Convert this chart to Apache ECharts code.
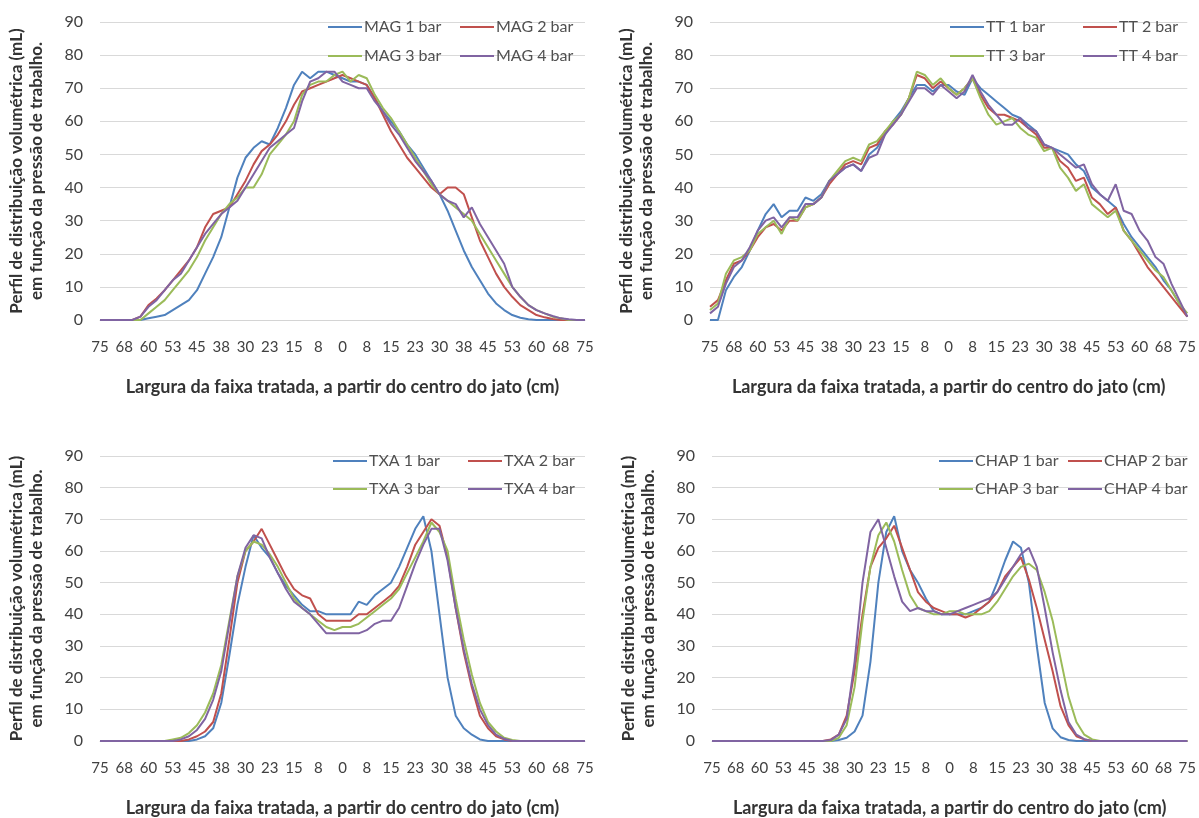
<!DOCTYPE html>
<html>
<head>
<meta charset="utf-8">
<script src="https://cdn.jsdelivr.net/npm/echarts@6/dist/echarts.min.js"></script>
<style>
html,body{margin:0;padding:0;background:#fff;}
#chart{width:1199px;height:818px;}
</style>
</head>
<body>
<div id="chart"></div>
<script>
// x positions (cm from jet centre), left to right
const xPositions = [-75,-72.5,-70,-67.5,-65,-62.5,-60,-57.5,-55,-52.5,-50,-47.5,-45,-42.5,-40,-37.5,-35,-32.5,-30,-27.5,-25,-22.5,-20,-17.5,-15,-12.5,-10,-7.5,-5,-2.5,0,2.5,5,7.5,10,12.5,15,17.5,20,22.5,25,27.5,30,32.5,35,37.5,40,42.5,45,47.5,50,52.5,55,57.5,60,62.5,65,67.5,70,72.5,75];
const tickLabels = ['75','68','60','53','45','38','30','23','15','8','0','8','15','23','30','38','45','53','60','68','75'];
const yTitle = 'Perfil de distribuição volumétrica (mL)\nem função da pressão de trabalho.';
const xTitle = 'Largura da faixa tratada, a partir do centro do jato (cm)';

const mag1 = [0,0,0,0,0,0,0.5,1,1.5,3,4.5,6,9,14,19,25,34,43,49,52,54,53,58,64,71,75,73,75,75,74,73,72,72,71,67,63,60,57,53,50,46,42,38,33,27,21,16,12,8,5,3,1.5,0.7,0.2,0,0,0,0,0,0,0];
const mag2 = [0,0,0,0,0,1,4.5,6.5,9,12,15,18,22,28,32,33,34,38,42,47,51,53,56,60,65,69,70,71,72,73,74,73,72,71,67,62,57,53,49,46,43,40,38,40,40,38,31,24,19,14,10,7,4.5,3,1.5,0.8,0.3,0,0,0,0];
const mag3 = [0,0,0,0,0,0,2,4,6,9,12,15,19,24,28,32,35,37,40,40,44,50,53,56,60,68,71,72,72,74,75,72,74,73,68,64,61,57,53,49,45,41,38,36,34,32,30,26,22,18,14,10,7,4.5,3,2,1,0.5,0,0,0];
const mag4 = [0,0,0,0,0,1,4,6,9,12,14,18,22,26,29,32,34,36,40,44,48,52,54,56,58,66,72,73,75,75,72,71,70,70,66,63,59,56,52,48,45,42,38,36,35,31,34,29,25,21,17,10,7,4.5,3,2,1.2,0.5,0.2,0,0];

const tt1 = [0,0,9,13,16,21,27,32,35,31,33,33,37,36,38,42,44,46,47,45,50,52,56,60,63,67,71,71,69,71,71,69,68,73,70,68,66,64,62,61,59,57,53,52,51,50,47,45,40,38,36,34,29,25,22,19,16,12,9,5,1];
const tt2 = [4,6,12,17,18,21,25,28,29,27,30,30,34,35,37,41,44,47,48,47,52,53,57,59,62,67,74,73,70,72,70,68,70,73,68,64,62,62,61,60,58,56,52,52,48,46,42,43,37,35,32,34,27,24,20,16,13,10,7,4,1];
const tt3 = [3,5,14,18,19,21,26,28,30,26,31,30,34,35,37,42,45,48,49,48,53,54,57,60,62,67,75,74,71,73,70,68,70,73,67,62,59,60,61,58,56,55,51,52,46,43,39,41,35,33,31,33,27,24,21,18,15,13,9,5,2];
const tt4 = [2,4,11,16,18,22,27,30,31,28,31,31,35,35,37,42,44,46,47,45,49,50,56,59,62,66,70,70,68,71,69,67,69,74,69,65,62,59,59,61,58,57,53,52,50,48,46,47,41,38,36,41,33,32,27,24,19,17,11,6,1];

const txa1 = [0,0,0,0,0,0,0,0,0,0,0,0,0.5,1.5,4,12,27,43,55,65,61,58,53,49,46,43,41,41,40,40,40,40,44,43,46,48,50,55,61,67,71,60,40,20,8,4,2,0.5,0,0,0,0,0,0,0,0,0,0,0,0,0];
const txa2 = [0,0,0,0,0,0,0,0,0,0,0,0.5,1.5,3,6,15,32,50,60,63,67,62,57,52,48,46,45,40,38,38,38,38,40,40,42,44,46,49,55,62,66,70,68,58,42,28,17,8,4,1.5,0.5,0,0,0,0,0,0,0,0,0,0];
const txa3 = [0,0,0,0,0,0,0,0,0,0.5,1,2.5,5,9,15,24,38,52,60,63,62,59,55,50,45,42,40,38,36,35,36,36,37,39,41,43,45,48,53,58,63,69,66,60,45,32,21,12,6,3,1,0.3,0,0,0,0,0,0,0,0,0];
const txa4 = [0,0,0,0,0,0,0,0,0,0,0.5,1.5,3.5,7,13,22,37,52,61,65,64,58,53,48,44,42,40,37,34,34,34,34,34,35,37,38,38,42,49,56,62,67,67,57,42,29,18,10,5,2,0.7,0,0,0,0,0,0,0,0,0,0];

const chap1 = [0,0,0,0,0,0,0,0,0,0,0,0,0,0,0,0,0.3,1,3,8,25,50,66,71,60,54,50,45,41,40,40,40,40,41,42,44,50,57,63,61,50,30,12,4,1.2,0.3,0,0,0,0,0,0,0,0,0,0,0,0,0,0,0];
const chap2 = [0,0,0,0,0,0,0,0,0,0,0,0,0,0,0,0.5,2,8,22,40,55,61,64,68,61,54,47,44,42,41,40,40,39,40,42,44,47,52,55,58,51,42,32,22,11,5,1.5,0.5,0,0,0,0,0,0,0,0,0,0,0,0,0];
const chap3 = [0,0,0,0,0,0,0,0,0,0,0,0,0,0,0,0,1,5,17,38,55,65,69,63,54,46,42,41,40,40,41,41,40,40,40,41,44,48,52,55,56,54,47,38,26,14,6,2,0.5,0,0,0,0,0,0,0,0,0,0,0,0];
const chap4 = [0,0,0,0,0,0,0,0,0,0,0,0,0,0,0,0.3,2,7,25,50,66,70,61,52,44,41,42,41,41,40,40,41,42,43,44,45,47,51,55,59,61,55,42,28,16,6,2,0.6,0,0,0,0,0,0,0,0,0,0,0,0,0];

const colors = ['#4F81BD','#C0504D','#9BBB59','#8064A2'];
const FONT = 'Lato, "Open Sans", sans-serif';
const TXT = '#404040';

const panels = [
  {prefix:'MAG', data:[mag1,mag2,mag3,mag4], grid:{left:100, top:22, width:485, height:298},
   legendX:[328,460], legendY:[29,58]},
  {prefix:'TT', data:[tt1,tt2,tt3,tt4], grid:{left:710, top:22, width:478, height:298},
   legendX:[950,1083], legendY:[29,58]},
  {prefix:'TXA', data:[txa1,txa2,txa3,txa4], grid:{left:100, top:456, width:485, height:294},
   legendX:[333,468], legendY:[463,491]},
  {prefix:'CHAP', data:[chap1,chap2,chap3,chap4], grid:{left:712, top:456, width:476, height:294},
   legendX:[939,1068], legendY:[463,491]}
];

const grid = [], xAxis = [], yAxis = [], series = [], legend = [];
panels.forEach((p, k) => {
  grid.push(Object.assign({containLabel:false}, p.grid));
  xAxis.push({
    type:'category', gridIndex:k, data:xPositions, boundaryGap:false,
    axisLine:{show:true, lineStyle:{color:'#d4d4d4', width:1}},
    axisTick:{show:false},
    axisLabel:{interval:2, formatter:(v, idx) => tickLabels[idx/3], color:TXT, fontSize:15, margin:20, fontFamily:FONT},
    splitLine:{show:false},
    name:xTitle, nameLocation:'middle', nameGap:58,
    nameTextStyle:{fontWeight:'bold', fontSize:18, color:'#333', fontFamily:FONT}
  });
  yAxis.push({
    type:'value', gridIndex:k, min:0, max:90, interval:10,
    axisLine:{show:false}, axisTick:{show:false},
    splitLine:{lineStyle:{color:'#d9d9d9', width:1}},
    axisLabel:{color:TXT, fontSize:16, margin:17, fontFamily:FONT},
    name:yTitle, nameLocation:'middle', nameGap:53,
    nameTextStyle:{fontWeight:'bold', fontSize:17, color:'#333', lineHeight:20, fontFamily:FONT}
  });
  p.data.forEach((d, j) => {
    const nm = p.prefix + ' ' + (j+1) + ' bar';
    series.push({
      name:nm, type:'line', xAxisIndex:k, yAxisIndex:k, data:d,
      symbol:'none', showSymbol:false, smooth:false,
      lineStyle:{color:colors[j], width:2}, itemStyle:{color:colors[j]},
      emphasis:{disabled:true}
    });
    legend.push({
      data:[nm], left:p.legendX[j % 2], top:p.legendY[Math.floor(j/2)] - 10,
      icon:'rect', itemWidth:34, itemHeight:2, itemGap:0, padding:0,
      textStyle:{fontSize:16, color:'#505050', fontFamily:FONT, padding:[0,0,0,-3]},
      selectedMode:false
    });
  });
});

const chart = echarts.init(document.getElementById('chart'), null, {renderer:'canvas'});
chart.setOption({
  backgroundColor:'#ffffff',
  animation:false,
  grid, xAxis, yAxis, series, legend
});
</script>
</body>
</html>
